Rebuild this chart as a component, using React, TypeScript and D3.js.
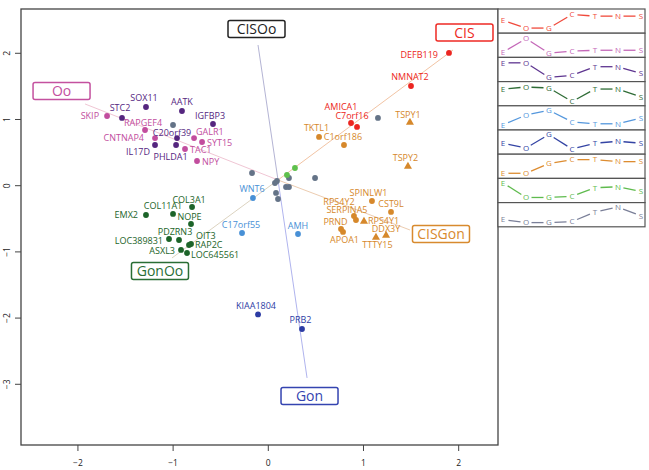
import React from "react";
import * as d3 from "d3";

// ---------- DATA ----------
const xTicks = [-2, -1, 0, 1, 2];
const yTicks = [2, 1, 0, -1, -2, -3];

type Gene = [string, number, number];

const purpleGenes: Gene[] = [
  ["STC2", -1.537, 1.023], ["SOX11", -1.285, 1.189], ["AATK", -0.907, 1.128],
  ["IGFBP3", -0.581, 0.932], ["C20orf39", -0.959, 0.72], ["IL17D", -1.19, 0.615],
  ["PHLDA1", -0.969, 0.615],
];
const pinkGenes: Gene[] = [
  ["SKIP", -1.694, 1.053], ["RAPGEF4", -1.295, 0.841], ["CNTNAP4", -1.19, 0.72],
  ["GALR1", -0.78, 0.72], ["SYT15", -0.696, 0.66], ["TAC1", -0.875, 0.554],
  ["NPY", -0.749, 0.373],
];
const redGenes: Gene[] = [
  ["DEFB119", 1.898, 2.005], ["NMNAT2", 1.499, 1.506], ["AMICA1", 0.869, 0.947],
  ["C7orf16", 0.932, 0.887],
];
const orangeGenes: Gene[] = [
  ["TKTL1", 0.533, 0.736], ["C1orf186", 0.795, 0.615], ["SPINLW1", 1.089, -0.231],
  ["CST9L", 1.289, -0.397], ["RPS4Y2", 0.9, -0.458], ["SERPINA5", 0.921, -0.518],
  ["PRND", 0.764, -0.654], ["APOA1", 0.785, -0.699],
];
const orangeYGenes: Gene[] = [
  ["TSPY1", 1.488, 0.962], ["TSPY2", 1.467, 0.298], ["RPS4Y1", 1.005, -0.533],
  ["DDX3Y", 1.237, -0.745], ["TTTY15", 1.131, -0.775],
];
const lightBlueGenes: Gene[] = [
  ["WNT6", -0.161, -0.186], ["C17orf55", -0.276, -0.715], ["AMH", 0.312, -0.73],
];
const darkGreenGenes: Gene[] = [
  ["COL3A1", -0.801, -0.322], ["COL11A1", -1.001, -0.427], ["EMX2", -1.285, -0.443],
  ["NOPE", -0.812, -0.579], ["PDZRN3", -0.938, -0.82], ["LOC389831", -1.043, -0.805],
  ["OIT3", -0.812, -0.881], ["RAP2C", -0.833, -0.896], ["ASXL3", -0.917, -0.971],
  ["LOC645561", -0.854, -1.017],
];
const blueGenes: Gene[] = [["KIAA1804", -0.108, -1.944], ["PRB2", 0.354, -2.165]];
const lightGreenGenes: Gene[] = [["", 0.28, 0.267], ["", 0.196, 0.162]];
const grayGenes: Gene[] = [
  ["", -1.001, 0.917], ["", 1.152, 1.023], ["", -0.171, 0.192], ["", 0.491, 0.116],
  ["", 0.07, 0.041], ["", 0.091, 0.071], ["", 0.217, 0.116], ["", 0.186, -0.02],
  ["", 0.217, -0.02], ["", 0.081, -0.11], ["", 0.102, -0.201],
];

// biplot axes
const axisNames = ["CIS", "GonOo", "Oo", "CISGon", "CISOo", "Gon"];
const axisEnds: [number, number][] = [
  [1.94, 2.05], [-1.012, -1.092], [-1.925, 1.234], [1.488, -0.669], [-0.108, 2.125], [0.407, -2.904],
];
const axisLabelPos: [number, number][] = [
  [2.061, 2.314], [-1.138, -1.289], [-2.172, 1.431], [1.814, -0.73], [-0.124, 2.367], [0.433, -3.177],
];
const axisCenter: [number, number] = [0.102, 0.086];

// expression profiles (legend)
const stages = ["E", "O", "G", "C", "T", "N", "S"];
const profiles: number[][] = [
  [0.56, 0.06, 0.06, 0.94, 0.83, 0.83, 0.83],
  [0.06, 0.94, 0.0, 0.13, 0.19, 0.19, 0.19],
  [0.94, 0.94, 0.0, 0.13, 0.69, 0.69, 0.25],
  [0.81, 0.94, 0.88, 0.0, 0.81, 0.81, 0.31],
  [0.06, 0.69, 1.0, 0.25, 0.13, 0.13, 0.5],
  [0.44, 0.13, 1.0, 0.06, 0.44, 0.56, 0.44],
  [0.06, 0.06, 0.69, 0.94, 0.94, 0.81, 0.81],
  [1.0, 0.06, 0.06, 0.13, 0.69, 0.75, 0.44],
  [0.19, 0.0, 0.0, 0.06, 0.69, 1.0, 0.44],
];

// ---------- STYLE / LAYOUT ----------
const C = {
  red: "#ec2520", pink: "#c24d9e", purple: "#55267f", orange: "#d6882b",
  lightBlue: "#4890d6", darkGreen: "#1c6429", blue: "#2c3ca4", lightGreen: "#5ec04c", gray: "#647387",
};
const groups: { genes: Gene[]; color: string; tri?: boolean }[] = [
  { genes: grayGenes, color: C.gray },
  { genes: lightGreenGenes, color: C.lightGreen },
  { genes: purpleGenes, color: C.purple },
  { genes: pinkGenes, color: C.pink },
  { genes: redGenes, color: C.red },
  { genes: orangeGenes, color: C.orange },
  { genes: orangeYGenes, color: C.orange, tri: true },
  { genes: lightBlueGenes, color: C.lightBlue },
  { genes: darkGreenGenes, color: C.darkGreen },
  { genes: blueGenes, color: C.blue },
];
const axisColors: Record<string, string> = {
  CIS: "#ee2a24", GonOo: "#2a6e35", Oo: "#c4519f", CISGon: "#d88a2e", CISOo: "#222222", Gon: "#3444b0",
};
const axisLineColors: Record<string, string> = {
  CIS: "#f2c4a4", GonOo: "#dcd3c0", Oo: "#f0c6d4", CISGon: "#ecccb0", CISOo: "#b4b4d4", Gon: "#b0b4ee",
};
const profileColors = ["#f04a3c", "#c468b8", "#5e3590", "#2f6c36", "#5497dd", "#3444a4", "#dd8c30", "#5fbb4e", "#7a7f98"];

// label placement: [dx, dy(center), anchor]
const lab: Record<string, [number, number, string]> = {
  SKIP: [-8, 0, "end"], STC2: [-2, -10, "middle"], SOX11: [-2, -9, "middle"], AATK: [0, -9, "middle"],
  IGFBP3: [-3, -8, "middle"], RAPGEF4: [-2, -7, "middle"], C20orf39: [-5, -5, "middle"],
  CNTNAP4: [-11, 0, "end"], GALR1: [2, -6, "start"], SYT15: [5, 1, "start"], IL17D: [-5, 7, "end"],
  PHLDA1: [-5.5, 12, "middle"], TAC1: [5, 1, "start"], NPY: [5, 1, "start"],
  DEFB119: [-11, 2, "end"], NMNAT2: [-1, -9, "middle"], AMICA1: [-10, -16, "middle"], C7orf16: [-5, -11, "middle"],
  TSPY1: [-2, -7, "middle"], TKTL1: [-2.5, -9, "middle"], C1orf186: [-1, -8, "middle"], TSPY2: [-2.5, -8, "middle"],
  SPINLW1: [-3.5, -8, "middle"], CST9L: [0, -8, "middle"], RPS4Y2: [-15, -14, "middle"], SERPINA5: [-9, -10, "middle"],
  RPS4Y1: [4, 0, "start"], PRND: [-5.5, -7, "middle"], APOA1: [1.5, 8, "middle"], DDX3Y: [0, -6, "middle"],
  TTTY15: [1.5, 8, "middle"], WNT6: [-1, -9, "middle"], C17orf55: [-1, -8, "middle"], AMH: [0, -8, "middle"],
  COL3A1: [-3, -7, "middle"], COL11A1: [-10, -8, "middle"], EMX2: [-8, 0, "end"], NOPE: [-1.5, -7, "middle"],
  PDZRN3: [-4, -8, "middle"], LOC389831: [-6, 2, "end"], OIT3: [5, -8, "start"], RAP2C: [6, 0, "start"],
  ASXL3: [-6, 1, "end"], LOC645561: [4, 2, "start"], KIAA1804: [-2, -9, "middle"], PRB2: [-1.5, -9, "middle"],
};

const W = 649, H = 470;
const plot = { left: 21, right: 498, top: 9, bottom: 445 };
const FONT = "'Open Sans', 'DejaVu Sans', sans-serif";

export default function App() {
  const x = d3.scaleLinear().domain([-2.598, 2.413]).range([plot.left, plot.right]);
  const y = d3.scaleLinear().domain([2.669, -3.917]).range([plot.top, plot.bottom]);

  const legLeft = 498, legRight = 645, legTop = 9, rowH = 24.2;
  const sx = d3.scalePoint<string>().domain(stages).range([503, 641]);

  const tri = d3.symbol().type(d3.symbolTriangle).size(28);

  return (
    <svg width={W} height={H} style={{ position: "absolute", left: 0, top: 0, background: "#fff" }} fontFamily={FONT}>
      <rect width={W} height={H} fill="#fff" />
      {axisNames.map((n, i) => (
        <line key={n} x1={x(axisCenter[0])} y1={y(axisCenter[1])} x2={x(axisEnds[i][0])} y2={y(axisEnds[i][1])}
          stroke={axisLineColors[n]} strokeWidth={1} />
      ))}
      {groups.map((g, gi) =>
        g.genes.map((d, i) =>
          g.tri ? (
            <path key={`p${gi}-${i}`} d={tri()!} transform={`translate(${x(d[1])},${y(d[2]) + 0.5})`} fill={g.color} />
          ) : (
            <circle key={`p${gi}-${i}`} cx={x(d[1])} cy={y(d[2])} r={2.9} fill={g.color} />
          )
        )
      )}
      {groups.map((g) =>
        g.genes.filter((d) => d[0]).map((d) => {
          const p = lab[d[0]] || [0, -8, "middle"];
          return (
            <text key={`t${d[0]}`} x={x(d[1]) + p[0]} y={y(d[2]) + p[1] + 3.3} fontSize={9} fontWeight={500}
              textAnchor={p[2] as any} fill={g.color}>{d[0]}</text>
          );
        })
      )}
      {axisNames.map((n, i) => {
        const cx = x(axisLabelPos[i][0]), cy = y(axisLabelPos[i][1]);
        return (
          <g key={`b${n}`}>
            <rect x={cx - 28.5} y={cy - 8.5} width={57} height={17} rx={2} fill="#fff" stroke={axisColors[n]} strokeWidth={1.5} />
            <text x={cx} y={cy + 5.2} textAnchor="middle" fontSize={14} fill={axisColors[n]}>{n}</text>
          </g>
        );
      })}
      <rect x={plot.left} y={plot.top} width={plot.right - plot.left} height={plot.bottom - plot.top} fill="none" stroke="#444" strokeWidth={1.3} />
      {xTicks.map((t) => (
        <g key={`xt${t}`}>
          <line x1={x(t)} x2={x(t)} y1={plot.bottom} y2={plot.bottom + 6} stroke="#444" strokeWidth={1} />
          <text x={x(t)} y={466} textAnchor="middle" fontSize={8.5} fill="#222">{t < 0 ? `\u2212${Math.abs(t)}` : t}</text>
        </g>
      ))}
      {yTicks.map((t) => (
        <g key={`yt${t}`}>
          <line x1={plot.left - 6} x2={plot.left} y1={y(t)} y2={y(t)} stroke="#444" strokeWidth={1} />
          <text transform={`translate(10,${y(t)}) rotate(-90)`} textAnchor="middle" fontSize={8.5} fill="#222">
            {t < 0 ? `\u2212${Math.abs(t)}` : t}
          </text>
        </g>
      ))}
      {profiles.map((prof, r) => {
        const top = legTop + r * rowH;
        const ly = d3.scaleLinear().domain([0, 1]).range([top + 20, top + 4.5]);
        const col = profileColors[r];
        const pts = stages.map((s, k) => [sx(s)!, ly(prof[k])]);
        return (
          <g key={`leg${r}`}>
            <rect x={legLeft} y={top} width={legRight - legLeft} height={rowH} fill="#fff" stroke="#555" strokeWidth={1.2} />
            {pts.slice(0, -1).map((p, k) => {
              const q = pts[k + 1];
              const dx = q[0] - p[0], dy = q[1] - p[1];
              const len = Math.hypot(dx, dy);
              const g0 = 5.5 / len;
              return (
                <line key={k} x1={p[0] + dx * g0} y1={p[1] + dy * g0} x2={q[0] - dx * g0} y2={q[1] - dy * g0}
                  stroke={col} strokeWidth={1.3} />
              );
            })}
            {pts.map((p, k) => (
              <text key={`l${k}`} x={p[0]} y={p[1] + 2.8} textAnchor="middle" fontSize={8} fontWeight={500} fill={col}>{stages[k]}</text>
            ))}
          </g>
        );
      })}
    </svg>
  );
}
